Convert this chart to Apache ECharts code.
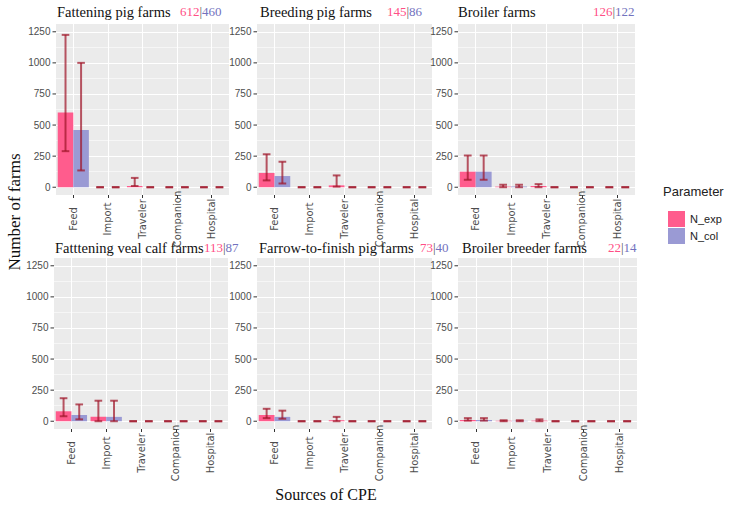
<!DOCTYPE html>
<html><head><meta charset="utf-8">
<script src="https://cdn.jsdelivr.net/npm/echarts@6/dist/echarts.min.js"></script>
<style>html,body{margin:0;padding:0;background:#fff}#c{width:731px;height:507px}</style>
</head><body><div id="c"></div>
<script>
// ---------------- data ----------------
const categories = ['Feed', 'Import', 'Traveler', 'Companion', 'Hospital'];
const panelTitles = ['Fattening pig farms', 'Breeding pig farms', 'Broiler farms',
  'Fatttening veal calf farms', 'Farrow-to-finish pig farms', 'Broiler breeder farms'];
const farmsExp = [612, 145, 126, 113, 73, 22];
const farmsCol = [460, 86, 122, 87, 40, 14];
const yTickLabels = [0, 250, 500, 750, 1000, 1250];
const seriesNames = ['N_exp', 'N_col'];

// one row per panel, one value per category
const nExpMean = [
  [600, 0, 10, 0, 0],
  [115, 0, 15, 0, 0],
  [125, 5, 10, 0, 0],
  [80, 35, 0, 0, 0],
  [50, 0, 8, 0, 0],
  [10, 3, 5, 0, 0]
];
const nExpLow = [
  [290, 0, 10, 0, 0],
  [55, 0, 5, 0, 0],
  [60, 0, 0, 0, 0],
  [40, 0, 0, 0, 0],
  [25, 0, 0, 0, 0],
  [5, 0, 0, 0, 0]
];
const nExpHigh = [
  [1225, 0, 75, 0, 0],
  [265, 0, 95, 0, 0],
  [255, 20, 25, 0, 0],
  [185, 165, 0, 0, 0],
  [100, 0, 35, 0, 0],
  [25, 8, 15, 0, 0]
];
const nColMean = [
  [460, 0, 0, 0, 0],
  [90, 0, 0, 0, 0],
  [125, 5, 0, 0, 0],
  [50, 35, 0, 0, 0],
  [35, 0, 0, 0, 0],
  [10, 3, 0, 0, 0]
];
const nColLow = [
  [135, 0, 0, 0, 0],
  [30, 0, 0, 0, 0],
  [60, 0, 0, 0, 0],
  [15, 0, 0, 0, 0],
  [20, 0, 0, 0, 0],
  [5, 0, 0, 0, 0]
];
const nColHigh = [
  [1000, 0, 0, 0, 0],
  [205, 0, 0, 0, 0],
  [255, 20, 0, 0, 0],
  [135, 165, 0, 0, 0],
  [85, 0, 0, 0, 0],
  [25, 8, 0, 0, 0]
];

// ---------------- layout / style ----------------
const gridBoxes = [
  {left: 56, top: 24, width: 173, height: 171},
  {left: 257, top: 24, width: 175, height: 171},
  {left: 458, top: 24, width: 177, height: 171},
  {left: 54, top: 258, width: 174, height: 171},
  {left: 257, top: 258, width: 175, height: 171},
  {left: 458, top: 258, width: 179, height: 171}
];
const titlePos = [
  {x: 57, y: 13, nx: 180}, {x: 260, y: 13, nx: 387}, {x: 458, y: 13, nx: 593},
  {x: 55, y: 249, nx: 204}, {x: 259, y: 249, nx: 420}, {x: 462, y: 249, nx: 608}
];
const colExp = '#FF5C8D';
const colCol = '#9A9AD4';
const errColor = 'rgba(160,22,42,0.72)';
const serif = '"Liberation Serif", "Times New Roman", serif';
const sans = '"Liberation Sans", Arial, sans-serif';
const narrow = '"Liberation Sans Narrow", "Arial Narrow", "DejaVu Sans Condensed", "Liberation Sans", sans-serif';

function errRender(params, api) {
  const ci = api.value(0), lo = api.value(1), hi = api.value(2), side = api.value(3);
  const band = api.size([1, 0])[0];
  const xc = api.coord([ci, 0])[0] + side * 0.225 * band;
  const yLo = api.coord([ci, lo])[1];
  const yHi = api.coord([ci, hi])[1];
  const hw = 0.11 * band;
  const st = {stroke: errColor, lineWidth: 2, fill: null};
  return {type: 'group', children: [
    {type: 'line', shape: {x1: xc, y1: yLo, x2: xc, y2: yHi}, style: st},
    {type: 'line', shape: {x1: xc - hw, y1: yLo, x2: xc + hw, y2: yLo}, style: st},
    {type: 'line', shape: {x1: xc - hw, y1: yHi, x2: xc + hw, y2: yHi}, style: st}
  ]};
}

const grids = [], xAxes = [], yAxes = [], series = [], graphics = [];
for (let i = 0; i < 6; i++) {
  grids.push(Object.assign({show: true, backgroundColor: '#EBEBEB', borderWidth: 0}, gridBoxes[i]));
  xAxes.push({
    gridIndex: i, type: 'category', data: categories,
    axisLine: {show: false, onZero: false},
    axisTick: {show: true, alignWithLabel: true, length: 3, lineStyle: {color: '#333', width: 1}},
    axisLabel: {rotate: 90, align: 'center', verticalAlign: 'middle', margin: 24,
      fontSize: 11, color: '#4D4D4D', fontFamily: narrow, interval: 0},
    splitLine: {show: true, alignWithLabel: true, lineStyle: {color: '#FFFFFF', width: 1.1}}
  });
  yAxes.push({
    gridIndex: i, type: 'value', min: -62.5, max: 1312.5, interval: 62.5,
    axisLine: {show: false}, axisTick: {show: false},
    axisLabel: {
      margin: 0,
      formatter: v => (v >= 0 && yTickLabels.indexOf(v) >= 0) ? '{v|' + v + '}{k|}' : '',
      rich: {
        v: {fontSize: 10, color: '#4D4D4D', fontFamily: sans, padding: [0, 2, 0, 0]},
        k: {width: 3.5, height: 1, backgroundColor: '#333333'}
      }
    },
    splitLine: {show: true, lineStyle: {
      color: ['rgba(0,0,0,0)', '#FFFFFF', 'rgba(0,0,0,0)', 'rgba(255,255,255,0.55)'], width: 1.1}}
  });
  series.push({
    type: 'bar', name: seriesNames[0], xAxisIndex: i, yAxisIndex: i,
    data: nExpMean[i], itemStyle: {color: colExp}, barGap: '0%', barCategoryGap: '10%'
  });
  series.push({
    type: 'bar', name: seriesNames[1], xAxisIndex: i, yAxisIndex: i,
    data: nColMean[i], itemStyle: {color: colCol}, barGap: '0%', barCategoryGap: '10%'
  });
  const errData = [];
  for (let j = 0; j < categories.length; j++) {
    errData.push([j, nExpLow[i][j], nExpHigh[i][j], -1]);
    errData.push([j, nColLow[i][j], nColHigh[i][j], 1]);
  }
  series.push({
    type: 'custom', xAxisIndex: i, yAxisIndex: i, renderItem: errRender,
    data: errData, encode: {x: 0, y: [1, 2]}, z: 10, silent: true
  });
  graphics.push({
    type: 'text', left: titlePos[i].x, top: titlePos[i].y - 9,
    style: {text: panelTitles[i], font: '14.5px ' + serif, fill: '#111'}
  });
  graphics.push({
    type: 'text', left: titlePos[i].nx, top: titlePos[i].y - 8,
    style: {
      text: '{a|' + farmsExp[i] + '}{s||}{b|' + farmsCol[i] + '}',
      rich: {
        a: {fontSize: 13, fontFamily: serif, fill: '#FF4F86', color: '#FF4F86'},
        s: {fontSize: 13, fontFamily: serif, fill: '#555', color: '#555'},
        b: {fontSize: 13, fontFamily: serif, fill: '#7272BE', color: '#7272BE'}
      }
    }
  });
}

graphics.push({
  type: 'text', left: 663, top: 185,
  style: {text: 'Parameter', font: '13px ' + sans, fill: '#222'}
});
graphics.push({
  type: 'text', x: 14, y: 212, rotation: Math.PI / 2,
  style: {text: 'Number of farms', font: '17px ' + serif, fill: '#111',
    align: 'center', verticalAlign: 'middle'}
});
graphics.push({
  type: 'text', x: 326, y: 494,
  style: {text: 'Sources of CPE', font: '16px ' + serif, fill: '#111',
    align: 'center', verticalAlign: 'middle'}
});

const chart = echarts.init(document.getElementById('c'), null, {renderer: 'svg'});
chart.setOption({
  animation: false,
  backgroundColor: '#FFFFFF',
  grid: grids,
  xAxis: xAxes,
  yAxis: yAxes,
  series: series,
  legend: {
    data: seriesNames, orient: 'vertical', left: 663, top: 206,
    itemWidth: 17, itemHeight: 16, itemGap: 1, icon: 'rect',
    textStyle: {fontSize: 11, color: '#222', fontFamily: sans},
    selectedMode: false
  },
  graphic: graphics
});
</script></body></html>
